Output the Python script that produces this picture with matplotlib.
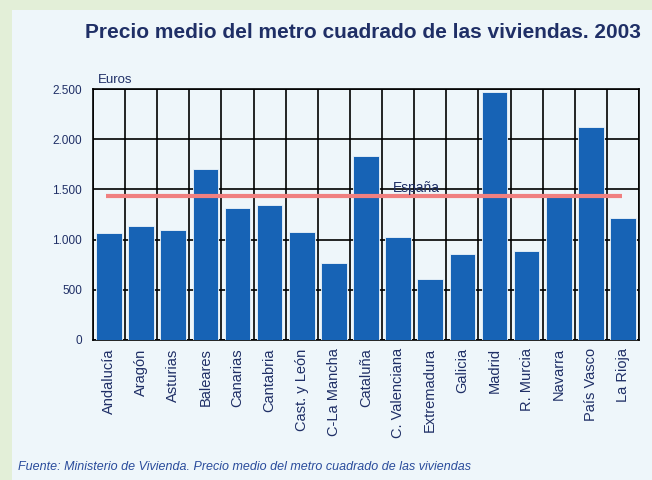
import matplotlib.pyplot as plt
from matplotlib.patches import Rectangle

plt.rcParams['font.family'] = ['Liberation Sans', 'DejaVu Sans']

regiones = ['Andalucía', 'Aragón', 'Asturias', 'Baleares', 'Canarias', 'Cantabria',
            'Cast. y León', 'C-La Mancha', 'Cataluña', 'C. Valenciana', 'Extremadura',
            'Galicia', 'Madrid', 'R. Murcia', 'Navarra', 'País Vasco', 'La Rioja']
precios = [1064, 1134, 1091, 1703, 1316, 1346, 1074, 771, 1828, 1025, 605,
           860, 2467, 883, 1425, 2120, 1217]
espana = 1430
yticks = [0, 500, 1000, 1500, 2000, 2500]

navy = '#1f2f66'
bar_color = '#1763b5'

fig = plt.figure(figsize=(6.52, 4.80), dpi=100)
fig.patch.set_facecolor('#e3efd8')
# inner light panel behind everything
fig.patches.append(Rectangle((12 / 652, 0), 1, 1 - 10 / 480, transform=fig.transFigure,
                             facecolor='#eef6fa', edgecolor='none', zorder=-10))

ax = fig.add_axes([93 / 652, 1 - 340 / 480, 546 / 652, 251 / 480])
ax.set_facecolor('#eef6fa')

x = range(len(regiones))
ax.bar(x, precios, width=0.8, color=bar_color, edgecolor='#eef6fa', linewidth=0.6, zorder=3)
ax.set_xlim(-0.5, len(regiones) - 0.5)
ax.set_ylim(0, 2500)

# grid: horizontal at ticks, vertical between categories
ax.set_yticks(yticks)
ax.set_yticklabels([f'{v:,}'.replace(',', '.') for v in yticks], color=navy, fontsize=8.5)
for v in yticks:
    ax.axhline(v, color='black', lw=1.2, zorder=2)
for i in range(len(regiones) + 1):
    ax.axvline(i - 0.5, color='black', lw=1.2, zorder=2)

ax.set_xticks(list(x))
ax.set_xticklabels(regiones, rotation=90, fontsize=10.5, color=navy)
ax.tick_params(axis='x', length=0, pad=6)
ax.tick_params(axis='y', length=0, pad=8)
for s in ax.spines.values():
    s.set_color('black')
    s.set_linewidth(1.2)

ax.plot([-0.1, 15.98], [espana, espana], color='#f08080', lw=3, zorder=4,
        solid_capstyle='butt')
ax.text(8.85, espana + 45, 'España', color=navy, fontsize=10, zorder=5)
ax.text(-0.35, 2530, 'Euros', color=navy, fontsize=9.5, va='bottom')

fig.text(85 / 652, 1 - 32 / 480, 'Precio medio del metro cuadrado de las viviendas. 2003',
         fontsize=15, fontweight='bold', color=navy, va='center')
fig.text(18 / 652, 1 - 467 / 480,
         'Fuente: Ministerio de Vivienda. Precio medio del metro cuadrado de las viviendas',
         fontsize=9, style='italic', color='#2a4c9c', va='center')

fig.savefig('out.png', dpi=100, facecolor=fig.get_facecolor())
